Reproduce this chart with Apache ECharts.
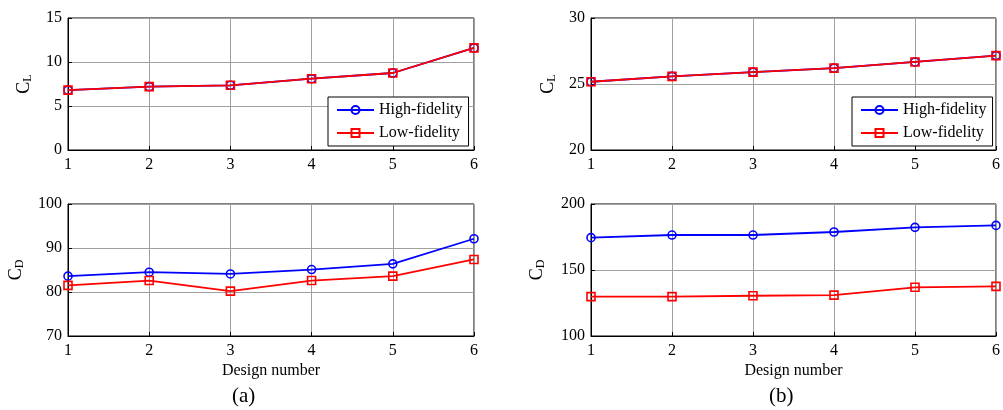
<!DOCTYPE html>
<html>
<head>
<meta charset="utf-8">
<script src="https://cdn.jsdelivr.net/npm/echarts@6/dist/echarts.min.js"></script>
<style>
  html, body { margin: 0; padding: 0; background: #fff; }
  #container { width: 1003px; height: 410px; }
</style>
</head>
<body>
<div id="container"></div>
<script>
var designs = ['1', '2', '3', '4', '5', '6'];

// (a)
var clHighA = [6.8, 7.2, 7.35, 8.1, 8.75, 11.6];
var clLowA = [6.8, 7.2, 7.35, 8.1, 8.75, 11.6];
var cdHighA = [83.6, 84.5, 84.1, 85.1, 86.4, 92.1];
var cdLowA = [81.5, 82.6, 80.2, 82.6, 83.6, 87.4];

// (b)
var clHighB = [25.17, 25.58, 25.9, 26.2, 26.67, 27.15];
var clLowB = [25.17, 25.58, 25.9, 26.2, 26.67, 27.15];
var cdHighB = [174.5, 176.5, 176.5, 178.8, 182.3, 183.8];
var cdLowB = [129.8, 129.8, 130.5, 131, 136.9, 137.6];

var serif = "'Liberation Serif', 'Times New Roman', serif";

var dom = document.getElementById('container');
var myChart = echarts.init(dom);

var grids = [
  { left: 68, right: 529, top: 18, height: 132 },
  { left: 68, right: 529, top: 204, height: 132 },
  { left: 591, right: 6, top: 18, height: 132 },
  { left: 591, right: 6, top: 204, height: 132 }
].map(function (g) {
  g.show = true;
  g.borderColor = '#000';
  g.borderWidth = 1;
  g.backgroundColor = '#fff';
  return g;
});

function xAxis(i, withName) {
  return {
    type: 'category',
    gridIndex: i,
    data: designs,
    boundaryGap: false,
    axisLine: { lineStyle: { color: '#000', width: 1 } },
    axisTick: { inside: true, length: 4, lineStyle: { color: '#000' } },
    axisLabel: { color: '#000', fontFamily: serif, fontSize: 16, margin: 7 },
    splitLine: { show: true, lineStyle: { color: '#a0a0a0', width: 1 } },
    name: withName ? 'Design number' : '',
    nameLocation: 'middle',
    nameGap: 27,
    nameTextStyle: { color: '#000', fontFamily: serif, fontSize: 16 }
  };
}

function yAxis(i, min, max, step, sub, gap) {
  return {
    type: 'value',
    gridIndex: i,
    min: min,
    max: max,
    interval: step,
    axisLine: { show: true, lineStyle: { color: '#000', width: 1 } },
    axisTick: { show: true, inside: true, length: 4, lineStyle: { color: '#000' } },
    axisLabel: { color: '#000', fontFamily: serif, fontSize: 16, margin: 6 },
    splitLine: { show: true, lineStyle: { color: '#a0a0a0', width: 1 } },
    name: '{c|C}{s|' + sub + '}',
    nameLocation: 'middle',
    nameRotate: 90,
    nameGap: gap,
    nameTextStyle: {
      rich: {
        c: { fontFamily: serif, fontSize: 18, color: '#000', lineHeight: 20 },
        s: { fontFamily: serif, fontSize: 12, color: '#000', lineHeight: 20, verticalAlign: 'bottom', padding: [9, 0, 0, 0] }
      }
    }
  };
}

function line(name, i, values) {
  var isHigh = name === 'High-fidelity';
  var color = isHigh ? '#0000ff' : '#ff0000';
  return {
    name: name,
    type: 'line',
    xAxisIndex: i,
    yAxisIndex: i,
    data: values,
    symbol: isHigh ? 'circle' : 'rect',
    symbolSize: 8,
    showSymbol: true,
    animation: false,
    lineStyle: { color: color, width: 1.8 },
    itemStyle: { color: 'rgba(255,255,255,0)', borderColor: color, borderWidth: 1.6 },
    z: isHigh ? 2 : 3
  };
}

function legend(left) {
  return {
    orient: 'vertical',
    left: left,
    top: 97,
    data: ['High-fidelity', 'Low-fidelity'],
    backgroundColor: '#fff',
    borderColor: '#000',
    borderWidth: 1,
    padding: [5, 6, 5, 8],
    itemWidth: 37,
    itemHeight: 10,
    itemGap: 7,
    textStyle: { color: '#000', fontFamily: serif, fontSize: 16 },
    selectedMode: false
  };
}

var option = {
  animation: false,
  grid: grids,
  xAxis: [xAxis(0, false), xAxis(1, true), xAxis(2, false), xAxis(3, true)],
  yAxis: [
    yAxis(0, 0, 15, 5, 'L', 34),
    yAxis(1, 70, 100, 10, 'D', 42),
    yAxis(2, 20, 30, 5, 'L', 33),
    yAxis(3, 100, 200, 50, 'D', 44)
  ],
  legend: [legend(328), legend(852)],
  series: [
    line('High-fidelity', 0, clHighA),
    line('Low-fidelity', 0, clLowA),
    line('High-fidelity', 1, cdHighA),
    line('Low-fidelity', 1, cdLowA),
    line('High-fidelity', 2, clHighB),
    line('Low-fidelity', 2, clLowB),
    line('High-fidelity', 3, cdHighB),
    line('Low-fidelity', 3, cdLowB)
  ],
  graphic: [
    { type: 'text', left: 232, top: 386, style: { text: '(a)', fontFamily: serif, fontSize: 21, fill: '#000' } },
    { type: 'text', left: 769, top: 386, style: { text: '(b)', fontFamily: serif, fontSize: 21, fill: '#000' } }
  ]
};

if (option && typeof option === 'object') {
  myChart.setOption(option);
}
</script>
</body>
</html>
